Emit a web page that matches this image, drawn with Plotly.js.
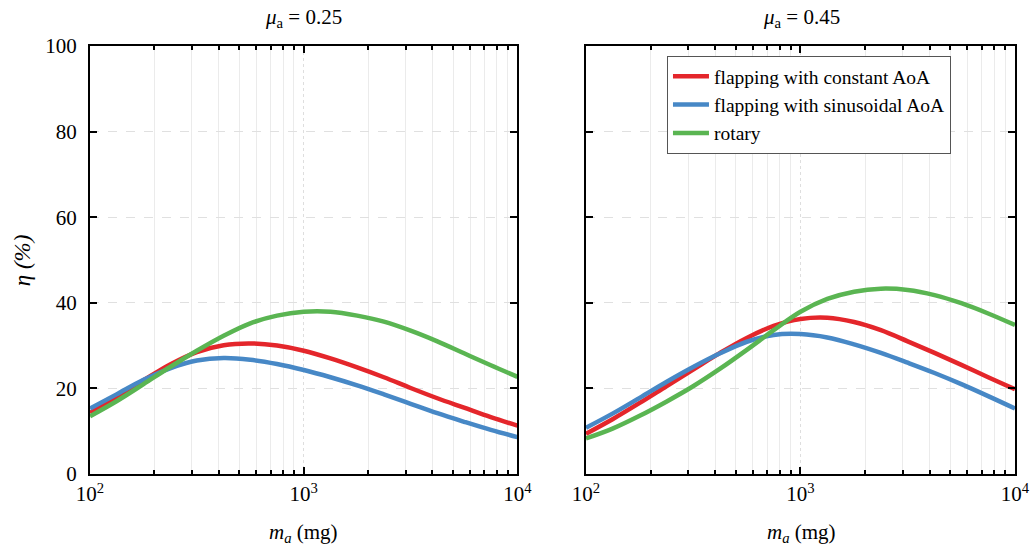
<!DOCTYPE html>
<html>
<head>
<meta charset="utf-8">
<script src="https://cdn.plot.ly/plotly-3.0.1.min.js"></script>
<style>
  html, body { margin: 0; padding: 0; background: #ffffff; overflow: hidden; }
  #chart { width: 1036px; height: 551px; }
</style>
</head>
<body>
<div id="chart"></div>
<script>
// Wing mass (mg), eighth-decade steps
const mass = [100, 133, 178, 237, 316, 422, 562, 750, 1000, 1334, 1778, 2371, 3162, 4217, 5623, 7499, 10000];

// Efficiency eta (%) at mu_a = 0.25
const constAoA025 = [14.3, 18.0, 21.9, 25.6, 28.5, 30.1, 30.5, 30.0, 28.8, 27.0, 24.9, 22.6, 20.1, 17.7, 15.5, 13.3, 11.3];
const sinAoA025   = [15.3, 18.6, 22.0, 24.7, 26.5, 27.1, 26.7, 25.7, 24.3, 22.6, 20.7, 18.6, 16.4, 14.2, 12.2, 10.3, 8.6];
const rotary025   = [13.5, 17.0, 21.0, 25.0, 28.8, 32.3, 35.2, 37.0, 37.9, 37.9, 37.0, 35.6, 33.5, 31.0, 28.2, 25.4, 22.7];

// Efficiency eta (%) at mu_a = 0.45
const constAoA045 = [9.4, 12.8, 16.6, 20.5, 24.4, 28.3, 31.8, 34.6, 36.2, 36.5, 35.5, 33.6, 31.0, 28.3, 25.5, 22.6, 19.8];
const sinAoA045   = [10.8, 14.1, 17.8, 21.5, 25.0, 28.2, 30.9, 32.5, 32.7, 31.9, 30.3, 28.3, 26.0, 23.6, 21.0, 18.2, 15.3];
const rotary045   = [8.3, 10.6, 13.6, 16.9, 20.5, 24.6, 29.0, 33.6, 37.9, 40.9, 42.6, 43.3, 43.0, 41.8, 39.9, 37.5, 34.8];

const seriesNames = ['flapping with constant AoA', 'flapping with sinusoidal AoA', 'rotary'];
const seriesColors = ['#e4262b', '#4788c6', '#5ab552'];

const panelTitles = ['<i>μ</i><sub>a</sub> = 0.25', '<i>μ</i><sub>a</sub> = 0.45'];
const majorTicks = [100, 1000, 10000];
const majorTickText = ['10<sup>2</sup>', '10<sup>3</sup>', '10<sup>4</sup>'];
const minorTicks = [200, 300, 400, 500, 600, 700, 800, 900, 2000, 3000, 4000, 5000, 6000, 7000, 8000, 9000];
const yTicks = [0, 20, 40, 60, 80, 100];

const serif = 'Liberation Serif, Times New Roman, serif';

function makeTrace(y, i, panel, showLegend) {
  return {
    x: mass, y: y, type: 'scatter', mode: 'lines',
    name: seriesNames[i],
    line: { color: seriesColors[i], width: 4.5, shape: 'spline', smoothing: 1 },
    xaxis: panel === 1 ? 'x' : 'x2',
    yaxis: panel === 1 ? 'y' : 'y2',
    showlegend: showLegend,
    hoverinfo: 'skip'
  };
}

const data = [
  makeTrace(constAoA025, 0, 1, false),
  makeTrace(sinAoA025, 1, 1, false),
  makeTrace(rotary025, 2, 1, false),
  makeTrace(constAoA045, 0, 2, true),
  makeTrace(sinAoA045, 1, 2, true),
  makeTrace(rotary045, 2, 2, true)
];

function xAxis(domain, anchor) {
  return {
    type: 'log', domain: domain, anchor: anchor,
    range: [2, 4],
    tickmode: 'array', tickvals: majorTicks, ticktext: majorTickText,
    ticks: 'inside', ticklen: 7, tickwidth: 1.8, tickcolor: '#000',
    showline: true, linecolor: '#000', linewidth: 2.4, mirror: 'ticks',
    showgrid: true, gridcolor: '#dedede', gridwidth: 1, griddash: 'dot',
    minor: {
      tickmode: 'array', tickvals: minorTicks,
      ticks: 'inside', ticklen: 4, tickwidth: 1.6, tickcolor: '#000',
      showgrid: true, gridcolor: '#ebebeb', gridwidth: 1, griddash: 'solid'
    },
    zeroline: false,
    tickfont: { family: serif, size: 21, color: '#000' },
    fixedrange: true
  };
}

function yAxis(anchor, showLabels) {
  return {
    domain: [0, 1], anchor: anchor,
    range: [0, 100],
    tickmode: 'array', tickvals: yTicks,
    showticklabels: showLabels,
    ticks: 'inside', ticklen: 7, tickwidth: 1.8, tickcolor: '#000',
    showline: true, linecolor: '#000', linewidth: 2.4, mirror: 'ticks',
    showgrid: true, gridcolor: '#e0e0e0', gridwidth: 1, griddash: 'dash',
    zeroline: false,
    ticklabelstandoff: 7,
    tickfont: { family: serif, size: 21, color: '#000' },
    fixedrange: true
  };
}

const labelFont = { family: serif, size: 21, color: '#000' };

const layout = {
  width: 1036, height: 551,
  margin: { l: 0, r: 0, t: 46, b: 77 },
  paper_bgcolor: '#ffffff', plot_bgcolor: '#ffffff',
  font: labelFont,
  hovermode: false,
  xaxis: xAxis([0.0869, 0.4995], 'y'),
  yaxis: yAxis('x', true),
  xaxis2: xAxis([0.5656, 0.9797], 'y2'),
  yaxis2: yAxis('x2', false),
  legend: {
    x: 0.6438, y: 0.9766, xanchor: 'left', yanchor: 'top',
    bgcolor: '#ffffff', bordercolor: '#555555', borderwidth: 1,
    font: { family: serif, size: 19.5, color: '#000' },
    itemwidth: 36, tracegroupgap: 0
  },
  annotations: [
    { text: panelTitles[0], xref: 'paper', yref: 'paper', x: 0.2934, y: 1, yshift: 28,
      xanchor: 'center', yanchor: 'middle', showarrow: false, font: labelFont },
    { text: panelTitles[1], xref: 'paper', yref: 'paper', x: 0.7732, y: 1, yshift: 28,
      xanchor: 'center', yanchor: 'middle', showarrow: false, font: labelFont },
    { text: '<i>m<sub>a</sub></i> (mg)', xref: 'paper', yref: 'paper', x: 0.2934, y: 0, yshift: -59,
      xanchor: 'center', yanchor: 'middle', showarrow: false, font: labelFont },
    { text: '<i>m<sub>a</sub></i> (mg)', xref: 'paper', yref: 'paper', x: 0.7732, y: 0, yshift: -59,
      xanchor: 'center', yanchor: 'middle', showarrow: false, font: labelFont },
    { text: '<i>η (%)</i>', xref: 'paper', yref: 'paper', x: 0.0215, y: 0.5, textangle: -90,
      xanchor: 'center', yanchor: 'middle', showarrow: false, font: { family: serif, size: 23, color: '#000' } }
  ]
};

Plotly.newPlot('chart', data, layout, { displayModeBar: false });
</script>
</body>
</html>
